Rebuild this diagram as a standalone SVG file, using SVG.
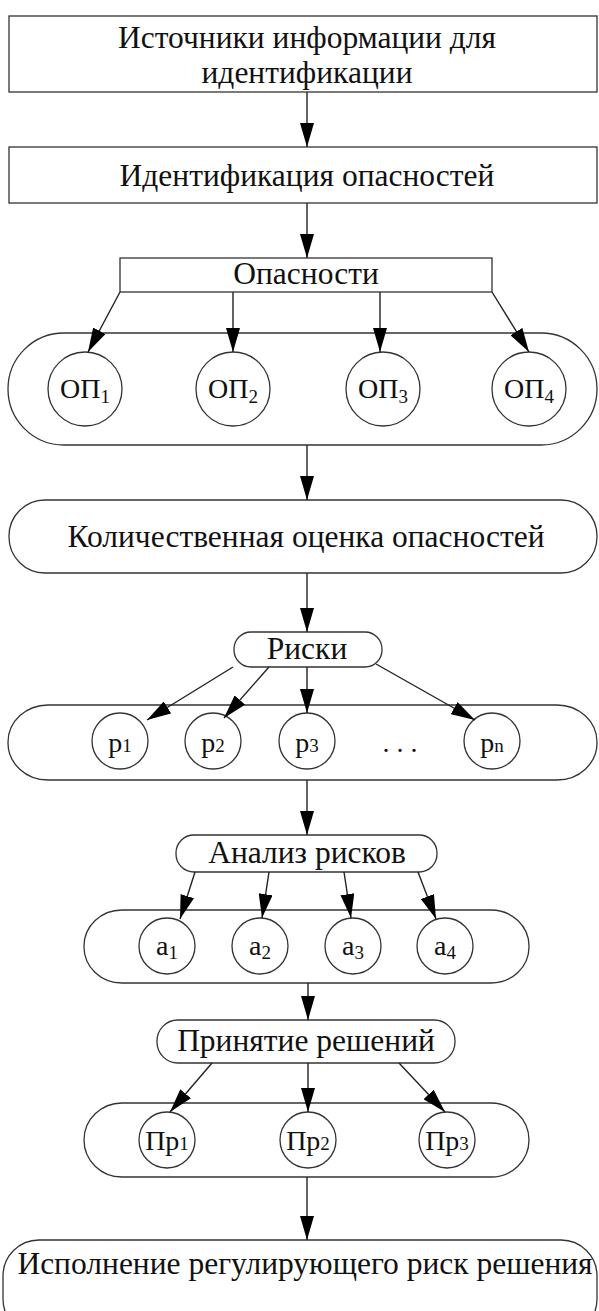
<svg xmlns="http://www.w3.org/2000/svg" width="599" height="1311" viewBox="0 0 599 1311">
<defs>
<style>
.b{fill:#fff;stroke:#333;stroke-width:1.3}
.t{font-family:"Liberation Serif","Times New Roman",serif;font-size:31.5px;fill:#111;text-anchor:middle}
.s{font-family:"Liberation Serif","Times New Roman",serif;font-size:28px;fill:#111;text-anchor:middle}
.c{stroke:#222;stroke-width:1.4;fill:none;marker-end:url(#ah)}
</style>
<marker id="ah" markerWidth="24" markerHeight="14" refX="24" refY="7" orient="auto" markerUnits="userSpaceOnUse"><path d="M0,0 L24,7 L0,14 z" fill="#000"/></marker>
</defs>
<rect width="599" height="1311" fill="#fff"/>

<g id="n-sources"><rect class="b" x="9" y="16" width="588" height="76"/>
<text class="t" x="307" y="48">Источники информации для</text>
<text class="t" x="307" y="83">идентификации</text></g>

<g id="n-ident"><rect class="b" x="9" y="147" width="588" height="56"/>
<text class="t" x="307" y="186">Идентификация опасностей</text></g>

<g id="n-hazards"><rect class="b" x="120" y="258" width="372" height="34"/>
<text class="t" x="306" y="284">Опасности</text></g>

<g id="n-op-group"><rect class="b" x="8" y="333" width="589" height="112" rx="56" ry="56"/>
<circle class="b" cx="85" cy="389" r="37"/><circle class="b" cx="233" cy="389" r="37"/><circle class="b" cx="383" cy="389" r="37"/><circle class="b" cx="529" cy="389" r="37"/>
<text class="s" x="85" y="398">ОП<tspan font-size="19" dy="5">1</tspan></text>
<text class="s" x="233" y="398">ОП<tspan font-size="19" dy="5">2</tspan></text>
<text class="s" x="383" y="398">ОП<tspan font-size="19" dy="5">3</tspan></text>
<text class="s" x="529" y="398">ОП<tspan font-size="19" dy="5">4</tspan></text></g>

<g id="n-quant"><rect class="b" x="9" y="500" width="588" height="73" rx="36" ry="36"/>
<text class="t" x="306" y="547">Количественная оценка опасностей</text></g>

<g id="n-risks"><rect class="b" x="234" y="632" width="148" height="35" rx="17" ry="17"/>
<text class="t" x="307" y="659">Риски</text></g>

<g id="n-p-group"><rect class="b" x="8" y="705" width="589" height="75" rx="40" ry="37"/>
<circle class="b" cx="120" cy="741" r="28"/><circle class="b" cx="213" cy="741" r="28"/><circle class="b" cx="307" cy="741" r="28"/><circle class="b" cx="492" cy="741" r="28"/>
<text class="s" x="120" y="752">p<tspan font-size="19">1</tspan></text>
<text class="s" x="213" y="752">p<tspan font-size="19">2</tspan></text>
<text class="s" x="307" y="752">p<tspan font-size="19">3</tspan></text>
<text class="s" x="400" y="752">. . .</text>
<text class="s" x="492" y="752">p<tspan font-size="19">n</tspan></text></g>

<g id="n-analysis"><rect class="b" x="176" y="835" width="261" height="37" rx="18" ry="18"/>
<text class="t" x="307" y="863">Анализ рисков</text></g>

<g id="n-a-group"><rect class="b" x="84" y="910" width="445" height="73" rx="38" ry="36"/>
<circle class="b" cx="167" cy="946" r="28"/><circle class="b" cx="260" cy="946" r="28"/><circle class="b" cx="353" cy="946" r="28"/><circle class="b" cx="445" cy="946" r="28"/>
<text class="s" x="167" y="955">a<tspan font-size="19" dy="4">1</tspan></text>
<text class="s" x="260" y="955">a<tspan font-size="19" dy="4">2</tspan></text>
<text class="s" x="353" y="955">a<tspan font-size="19" dy="4">3</tspan></text>
<text class="s" x="445" y="955">a<tspan font-size="19" dy="4">4</tspan></text></g>

<g id="n-decisions"><rect class="b" x="157" y="1020" width="298" height="43" rx="21" ry="21"/>
<text class="t" x="306" y="1051">Принятие решений</text></g>

<g id="n-pr-group"><rect class="b" x="84" y="1103" width="445" height="74" rx="38" ry="37"/>
<circle class="b" cx="167" cy="1140" r="28"/><circle class="b" cx="308" cy="1140" r="28"/><circle class="b" cx="447" cy="1140" r="28"/>
<text class="s" x="167" y="1150" font-size="27">Пр<tspan font-size="19">1</tspan></text>
<text class="s" x="308" y="1150" font-size="27">Пр<tspan font-size="19">2</tspan></text>
<text class="s" x="447" y="1150" font-size="27">Пр<tspan font-size="19">3</tspan></text></g>

<g id="n-exec"><rect class="b" x="3" y="1240" width="594" height="95" rx="36" ry="36"/>
<text class="t" x="305" y="1274">Исполнение регулирующего риск решения</text></g>

<g id="connectors">
<line class="c" x1="307" y1="92" x2="307" y2="147"/>
<line class="c" x1="307" y1="203" x2="307" y2="258"/>
<line class="c" x1="120" y1="292" x2="88" y2="352"/>
<line class="c" x1="233" y1="292" x2="233" y2="352"/>
<line class="c" x1="380" y1="292" x2="380" y2="352"/>
<line class="c" x1="492" y1="292" x2="529" y2="352"/>
<line class="c" x1="307" y1="445" x2="307" y2="500"/>
<line class="c" x1="307" y1="573" x2="307" y2="632"/>
<line class="c" x1="233" y1="667" x2="147" y2="720"/>
<line class="c" x1="269" y1="667" x2="224" y2="718"/>
<line class="c" x1="307" y1="667" x2="307" y2="713"/>
<line class="c" x1="376" y1="664" x2="475" y2="720"/>
<line class="c" x1="307" y1="780" x2="307" y2="835"/>
<line class="c" x1="195" y1="872" x2="180" y2="919"/>
<line class="c" x1="269" y1="872" x2="262" y2="918"/>
<line class="c" x1="344" y1="872" x2="351" y2="918"/>
<line class="c" x1="418" y1="872" x2="436" y2="919"/>
<line class="c" x1="308" y1="983" x2="308" y2="1020"/>
<line class="c" x1="212" y1="1063" x2="170" y2="1112"/>
<line class="c" x1="308" y1="1063" x2="308" y2="1112"/>
<line class="c" x1="399" y1="1063" x2="445" y2="1112"/>
<line class="c" x1="307" y1="1177" x2="307" y2="1240"/>
</g>
</svg>
